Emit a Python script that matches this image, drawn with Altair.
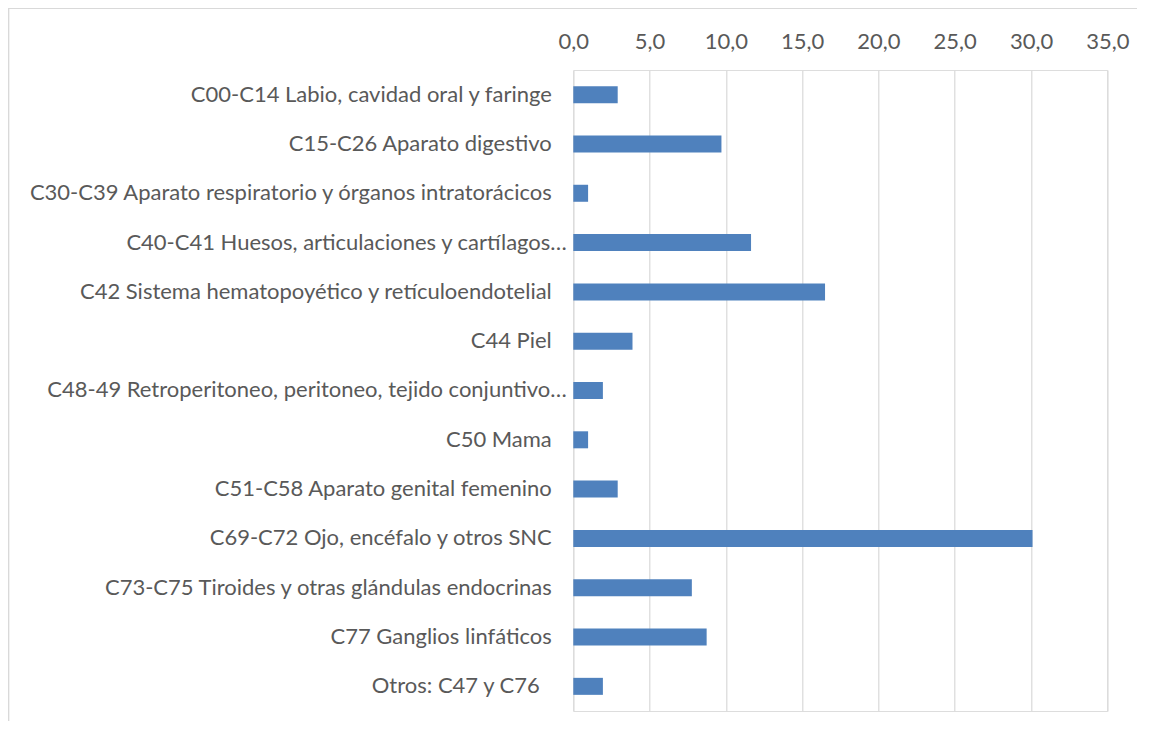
import altair as alt
import pandas as pd

categories = [
    "C00-C14 Labio, cavidad oral y faringe",
    "C15-C26 Aparato digestivo",
    "C30-C39 Aparato respiratorio y órganos intratorácicos",
    "C40-C41 Huesos, articulaciones y cartílagos…",
    "C42 Sistema hematopoyético y retículoendotelial",
    "C44 Piel",
    "C48-49 Retroperitoneo, peritoneo, tejido conjuntivo…",
    "C50 Mama",
    "C51-C58 Aparato genital femenino",
    "C69-C72 Ojo, encéfalo y otros SNC",
    "C73-C75 Tiroides y otras glándulas endocrinas",
    "C77 Ganglios linfáticos",
    "Otros: C47 y C76",
]
values = [2.91, 9.71, 0.97, 11.65, 16.50, 3.88, 1.94, 0.97, 2.91, 30.10, 7.77, 8.74, 1.94]
x_ticks = [0, 5, 10, 15, 20, 25, 30, 35]

df = pd.DataFrame({"cat": categories, "val": values})

FONT = "Lato"
GRAY = "#595959"
GRID = "#d9d9d9"
FS = 22

bars = alt.Chart(df).mark_bar(color="#4f81bd").encode(
    x=alt.X(
        "val:Q",
        scale=alt.Scale(domain=[0, 35], nice=False, zero=True),
        axis=alt.Axis(
            orient="top",
            values=x_ticks,
            title=None,
            domain=False,
            ticks=False,
            grid=True,
            gridColor=GRID,
            gridWidth=1.2,
            labelFlush=False,
            labelOverlap=False,
            labelExpr="replace(format(datum.value, '.1f'), '.', ',')",
            labelFont=FONT,
            labelFontSize=FS,
            labelColor=GRAY,
            labelPadding=17,
        ),
    ),
    y=alt.Y(
        "cat:N",
        sort=categories,
        scale=alt.Scale(paddingInner=0.655, paddingOuter=0.3275),
        axis=alt.Axis(
            title=None,
            domain=False,
            ticks=False,
            grid=False,
            labelFont=FONT,
            labelFontSize=FS,
            labelColor=GRAY,
            labelPadding={
                "condition": [
                    {"test": "indexof(datum.label, '…') >= 0", "value": 7},
                    {"test": "indexof(datum.label, 'Otros') == 0", "value": 34},
                ],
                "value": 22,
            },
            labelLimit=700,
        ),
    ),
)

frame_left = alt.Chart(df).mark_rule(color=GRID, strokeWidth=1.5).encode(
    x=alt.value(-565), y=alt.value(-62), y2=alt.value(660)
)
frame_top = alt.Chart(df).mark_rule(color=GRID, strokeWidth=1.5).encode(
    x=alt.value(-565), x2=alt.value(600), y=alt.value(-62)
)

chart = (
    alt.layer(bars, frame_left, frame_top)
    .properties(
        width=534,
        height=641,
        autosize=alt.AutoSizeParams(type="none"),
        padding={"left": 565.3, "top": 62, "right": 30, "bottom": 10},
    )
    .configure_view(stroke=None)
    .configure(background="white")
)

chart.save("out.html", embed_options={"renderer": "svg", "actions": False})
